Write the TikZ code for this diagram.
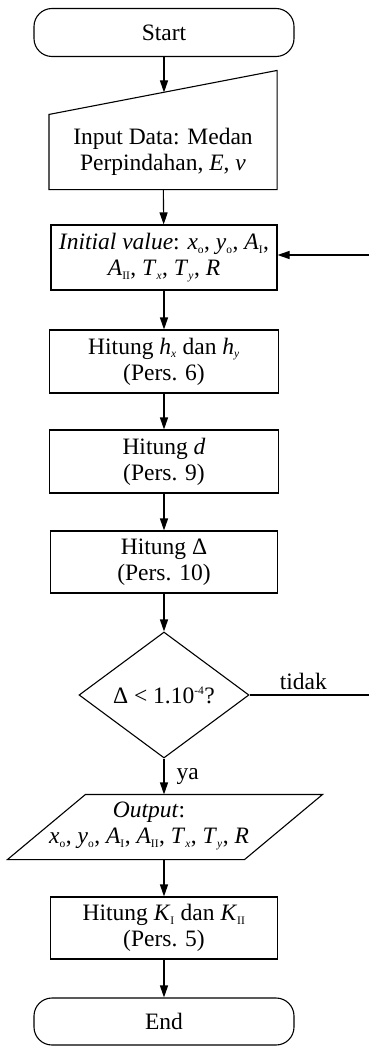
\documentclass[tikz,border=0pt]{standalone}
\usepackage{fontspec}
\setmainfont{Liberation Serif}
\usepackage{tikz}
\usetikzlibrary{arrows.meta, positioning, shapes.geometric, calc}
\newcommand{\vsub}[2]{\textit{#1}\textsubscript{\fontsize{11.5}{12}\selectfont #2}}

\tikzset{
  base/.style={font=\fontsize{23.5}{26}\selectfont, align=center, inner sep=0pt, line width=1.1pt},
  term/.style={base, draw, rectangle, rounded corners=18pt, minimum width=260pt, minimum height=48pt},
  proc/.style={base, draw, rectangle, minimum width=227pt, minimum height=63pt},
  decis/.style={base, draw, diamond, minimum width=170pt, minimum height=126pt},
  slot/.style={base, rectangle},
  edge/.style={line width=1.1pt},
  arr/.style={edge, -{Triangle[length=12pt,width=8pt]}},
}

\begin{document}
\begin{tikzpicture}[x=1pt,y=1pt]
        \useasboundingbox (0,0) rectangle (369,-1046);
        % nodes
        \node[term] (start) at (164,-32.5) {Start};
        \node[slot, minimum width=227pt, minimum height=74pt] (inp) at (163,-152) {Input Data: Medan\\Perpindahan, \textit{E}, \textit{v}};
        \draw[edge] (inp.north west) -- (inp.south west) -- (inp.south east) -- ($(inp.north east)+(0,44)$) -- cycle;
        \coordinate (inptop) at ($(inp.north)+(1,22)$);
        \node[proc, minimum height=65pt, minimum width=226pt] (init) at (164,-257.5) {\textit{Initial value}: \vsub{x}{o}, \vsub{y}{o}, \vsub{A}{I},\\\vsub{A}{II}, \vsub{T}{\textit{x}}, \vsub{T}{\textit{y}}, \textit{R}};
        \node[proc, minimum width=229pt] (hh) at (164,-361.5) {Hitung \vsub{h}{\textit{x}} dan \vsub{h}{\textit{y}}\\(Pers. 6)};
        \node[proc, minimum width=229pt] (hd) at (164,-461.5) {Hitung \textit{d}\\(Pers. 9)};
        \node[proc, minimum height=62pt] (hdel) at (164,-562) {Hitung Δ\\(Pers. 10)};
        \node[decis] (dec) at (164,-695) {Δ < 1.10\textsuperscript{\fontsize{11.5}{12}\selectfont -4}?};
        \node[slot, minimum width=236pt, minimum height=64pt] (out) at (165,-827) {};
        \draw[edge] ($(out.north west)+(39,0)$) -- ($(out.north east)+(39,0)$) -- ($(out.south east)+(-39,0)$) -- ($(out.south west)+(-39,0)$) -- cycle;
        \node[base] (outtxt) at (149,-826) {\textit{Output}:\\\vsub{x}{o}, \vsub{y}{o}, \vsub{A}{I}, \vsub{A}{II}, \vsub{T}{\textit{x}}, \vsub{T}{\textit{y}}, \textit{R}};
        \node[proc, minimum height=62pt] (hk) at (164,-928) {Hitung \vsub{K}{I} dan \vsub{K}{II}\\(Pers. 5)};
        \node[term, minimum height=47pt] (end) at (164,-1021.5) {End};
        \coordinate (back) at (369,-255);
        \coordinate (loopend) at (369,-695);
        % connectors
        \draw[arr] (start) -- (inptop);
        \draw[arr] (inp) -- (init);
        \draw[arr] (back) -- (back -| init.east);
        \draw[arr] (init) -- (hh);
        \draw[arr] (hh) -- (hd);
        \draw[arr] (hd) -- (hdel);
        \draw[arr] (hdel) -- (dec);
        \draw[edge] (dec.east) -- node[base, above=5pt, pos=0.45] (tidak) {tidak} (loopend);
        \draw[arr] (dec) -- node[base, right=12pt] (ya) {ya} (dec |- out.north);
        \draw[arr] (hk.north |- out.south) -- (hk);
        \draw[arr] (hk) -- (end);
      \end{tikzpicture}
\end{document}
